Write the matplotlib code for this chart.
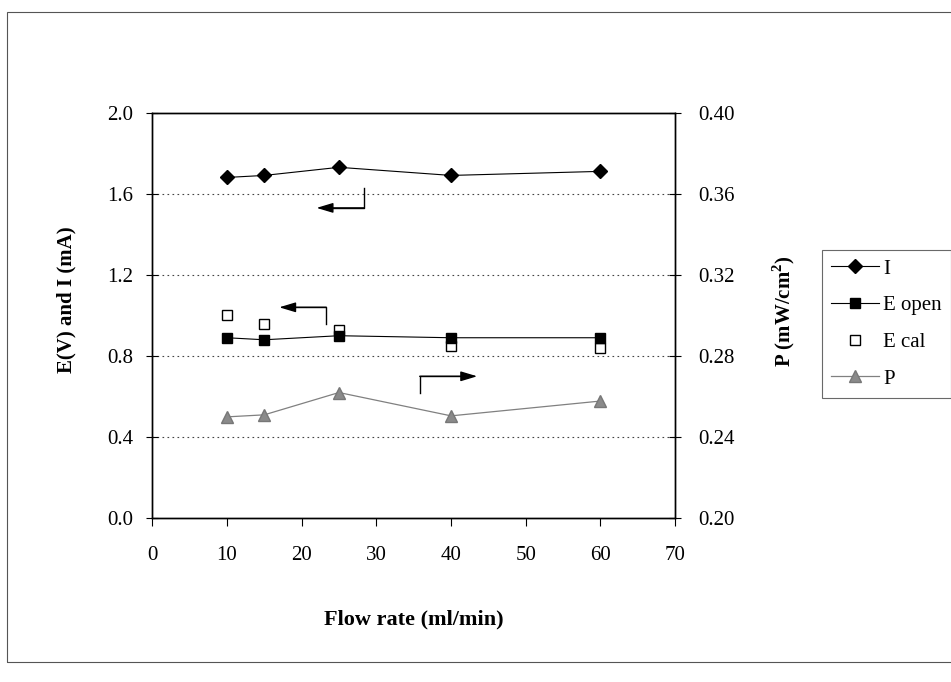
import matplotlib
matplotlib.use("Agg")
import matplotlib.pyplot as plt
from matplotlib.patches import Rectangle

# ----- Data -----
flow_rate = [10, 15, 25, 40, 60]
current_ma = [1.68, 1.69, 1.73, 1.69, 1.71]
e_open = [0.89, 0.88, 0.90, 0.89, 0.89]
e_cal = [1.00, 0.96, 0.93, 0.85, 0.84]
power = [0.2500, 0.2510, 0.2620, 0.2505, 0.2578]

x_ticks = [0, 10, 20, 30, 40, 50, 60, 70]
left_ticks = [0.0, 0.4, 0.8, 1.2, 1.6, 2.0]
right_ticks = [0.20, 0.24, 0.28, 0.32, 0.36, 0.40]

plt.rcParams['font.family'] = ['Liberation Serif', 'DejaVu Serif']
plt.rcParams['mathtext.fontset'] = 'custom'
plt.rcParams['mathtext.rm'] = 'Liberation Serif'
plt.rcParams['mathtext.bf'] = 'Liberation Serif:bold'

fig = plt.figure(figsize=(9.51, 6.82), dpi=100)
ax = fig.add_axes([0.160, 0.240, 0.550, 0.595])
ax2 = ax.twinx()

# outer frame of the scanned chart
fig.patches.append(Rectangle((7 / 951, 1 - 662 / 682), 1.0, 650 / 682,
                             transform=fig.transFigure, fill=False,
                             edgecolor='#555555', linewidth=0.8))

ln_i, = ax.plot(flow_rate, current_ma, color='black', lw=0.8, marker='D',
                ms=7.5, mfc='black', mec='black', label='I')
ln_eo, = ax.plot(flow_rate, e_open, color='black', lw=0.8, marker='s',
                 ms=7, mfc='black', mec='black', label='E open', zorder=4)
ln_ec, = ax.plot(flow_rate, e_cal, linestyle='none', marker='s', ms=7,
                 mfc='white', mec='black', mew=1.0, label='E cal', zorder=3)
ln_p, = ax2.plot(flow_rate, power, color='#808080', lw=0.9, marker='^',
                 ms=8, mfc='#8a8a8a', mec='#777777', label='P')

ax.set_xlim(0, 70)
ax.set_ylim(0, 2.0)
ax2.set_ylim(0.20, 0.40)
ax.set_xticks(x_ticks)
ax.set_yticks(left_ticks)
ax.set_yticklabels([f"{v:.1f}" for v in left_ticks])
ax2.set_yticks(right_ticks)
ax2.set_yticklabels([f"{v:.2f}" for v in right_ticks])

for a in (ax, ax2):
    for s in a.spines.values():
        s.set_linewidth(1.0)
ax.tick_params(axis='x', direction='out', length=6, labelsize=15, pad=14)
ax.tick_params(axis='y', direction='inout', length=9, labelsize=15, pad=9)
ax2.tick_params(axis='y', direction='inout', length=9, labelsize=15, pad=12)

for v in left_ticks[1:-1]:
    ax.axhline(v, color='#444444', lw=0.8, linestyle=(0, (1.5, 3)), zorder=0)

ax.set_xlabel('Flow rate (ml/min)', fontsize=16, fontweight='bold', labelpad=32)
ax.set_ylabel('E(V) and I (mA)', fontsize=15, fontweight='bold')
ax.yaxis.set_label_coords(-0.144, 0.54)
ax2.set_ylabel(r'P (mW/cm$^\mathbf{2}$)', fontsize=15, fontweight='bold')
ax2.yaxis.set_label_coords(1.182, 0.51)

# elbow arrows pointing to the axis each series belongs to
arrows = [
    ((28.4, 1.63), (28.4, 1.53), (22.0, 1.53)),
    ((23.3, 0.96), (23.3, 1.04), (17.0, 1.04)),
    ((35.8, 0.62), (35.8, 0.70), (43.5, 0.70)),
]
for p0, p1, tip in arrows:
    ax.plot([p0[0], p1[0], tip[0] + (1.5 if tip[0] < p1[0] else -1.5)],
            [p0[1], p1[1], tip[1]], color='black', lw=1.0)
    ax.annotate('', xy=tip, xytext=p1,
                arrowprops=dict(arrowstyle='-|>,head_length=1.0,head_width=0.3',
                                color='black', lw=1.0, shrinkA=0, shrinkB=0))

leg = fig.legend([ln_i, ln_eo, ln_ec, ln_p], ['I', 'E open', 'E cal', 'P'],
                 loc='upper left', bbox_to_anchor=(0.864, 0.634),
                 fontsize=15, frameon=True, fancybox=False, handlelength=2.3,
                 labelspacing=0.82, borderpad=0.45, handletextpad=0.2,
                 borderaxespad=0)
leg.get_frame().set_edgecolor('#444444')
leg.get_frame().set_linewidth(0.8)

fig.savefig('out.png', dpi=100)
